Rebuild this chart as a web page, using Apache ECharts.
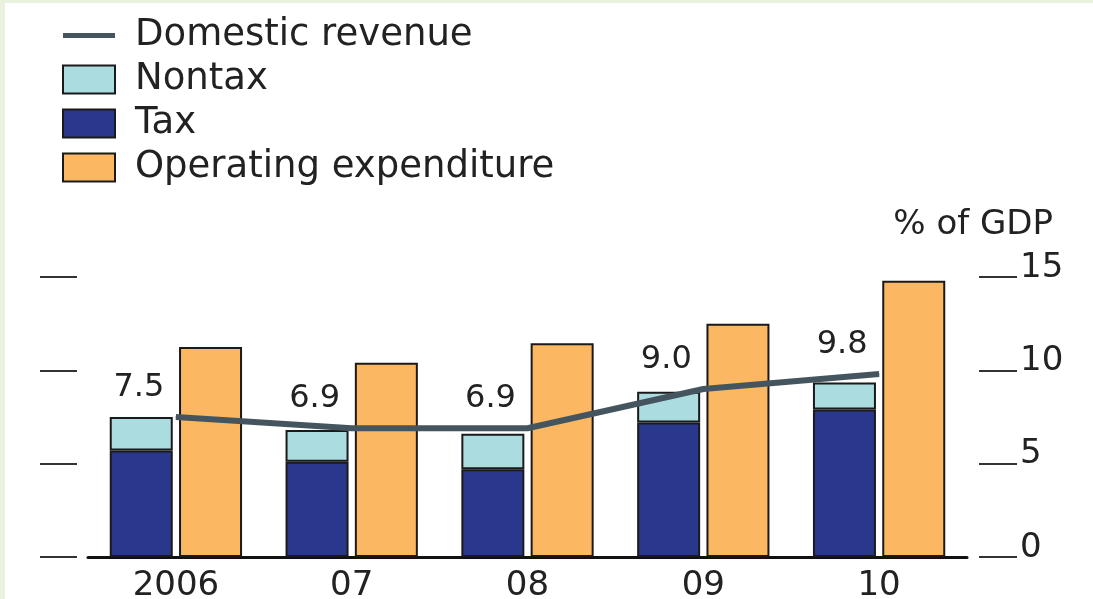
<!DOCTYPE html>
<html>
<head>
<meta charset="utf-8">
<script src="https://cdn.jsdelivr.net/npm/echarts@6/dist/echarts.min.js"></script>
<style>
  html, body { margin: 0; padding: 0; background: #eaf1df; }
  #chart { position: absolute; left: 5px; top: 3px; width: 1088px; height: 596px; background: #fff; }
</style>
</head>
<body>
<div id="chart"></div>
<script>
// values, % of GDP
const years = ['2006', '07', '08', '09', '10'];
const tax = [5.7, 5.1, 4.7, 7.2, 7.9];
const nontax = [1.8, 1.7, 1.9, 1.65, 1.45];
const expenditure = [11.25, 10.4, 11.45, 12.5, 14.8];
const revenue = [7.5, 6.9, 6.9, 9.0, 9.8];
const yTicks = { min: 0, max: 15, step: 5 };

const FONT = 'DejaVu Sans';
const ink = '#222';
const border = { borderColor: '#1a1a1a', borderWidth: 2 };

const chart = echarts.init(document.getElementById('chart'));

const option = {
  animation: false,
  textStyle: { fontFamily: FONT },
  title: {
    text: '% of GDP',
    right: 35,
    top: 200,
    textStyle: { fontFamily: FONT, fontSize: 34, fontWeight: 'normal', color: ink }
  },
  legend: {
    orient: 'vertical',
    left: 52,
    top: 9,
    itemWidth: 52,
    itemHeight: 28,
    itemGap: 7,
    textStyle: { fontFamily: FONT, fontSize: 37, lineHeight: 34, color: ink, padding: [0, 0, 0, 15] },
    data: [
      { name: 'Domestic revenue', icon: 'path://M0,0H60V6H0Z' },
      { name: 'Nontax', icon: 'rect' },
      { name: 'Tax', icon: 'rect' },
      { name: 'Operating expenditure', icon: 'rect' }
    ]
  },
  grid: { left: 83, right: 126, top: 274, bottom: 42, outerBoundsMode: 'none', containLabel: false },
  xAxis: {
    type: 'category',
    data: years,
    axisLine: { lineStyle: { color: '#111', width: 3 } },
    axisTick: { inside: true, length: 6, lineStyle: { color: '#111', width: 2 } },
    axisLabel: { fontFamily: FONT, fontSize: 34, color: ink, margin: 12 }
  },
  yAxis: [
    {
      type: 'value', position: 'left', offset: 11,
      min: yTicks.min, max: yTicks.max, interval: yTicks.step,
      axisLine: { show: false },
      axisTick: { show: true, length: 37, lineStyle: { color: '#333', width: 2 } },
      axisLabel: { show: false },
      splitLine: { show: false }
    },
    {
      type: 'value', position: 'right', offset: 12,
      min: yTicks.min, max: yTicks.max, interval: yTicks.step,
      axisLine: { show: false },
      axisTick: { show: true, length: 38, lineStyle: { color: '#333', width: 2 } },
      axisLabel: { fontFamily: FONT, fontSize: 34, color: ink, margin: 41, verticalAlign: 'bottom', lineHeight: 18 },
      splitLine: { show: false }
    }
  ],
  series: [
    {
      name: 'Tax', type: 'bar', stack: 'rev', yAxisIndex: 1,
      barWidth: 63, barGap: '10%',
      itemStyle: Object.assign({ color: '#29388c' }, border),
      data: tax
    },
    {
      name: 'Nontax', type: 'bar', stack: 'rev', yAxisIndex: 1,
      barWidth: 63, barGap: '10%',
      itemStyle: Object.assign({ color: '#abdde0' }, border),
      data: nontax
    },
    {
      name: 'Operating expenditure', type: 'bar', yAxisIndex: 1,
      barWidth: 63, barGap: '10%',
      itemStyle: Object.assign({ color: '#fbb762' }, border),
      data: expenditure
    },
    {
      name: 'Domestic revenue', type: 'line', yAxisIndex: 1, z: 5,
      symbol: 'circle',
      symbolSize: 1,
      showSymbol: true,
      color: '#45555f',
      itemStyle: { color: '#45555f' },
      lineStyle: { color: '#45555f', width: 6 },
      label: {
        show: true, position: 'top', offset: [-37, -8],
        fontFamily: FONT, fontSize: 32, color: ink,
        formatter: p => p.value.toFixed(1)
      },
      data: revenue
    }
  ]
};

chart.setOption(option);
</script>
</body>
</html>
